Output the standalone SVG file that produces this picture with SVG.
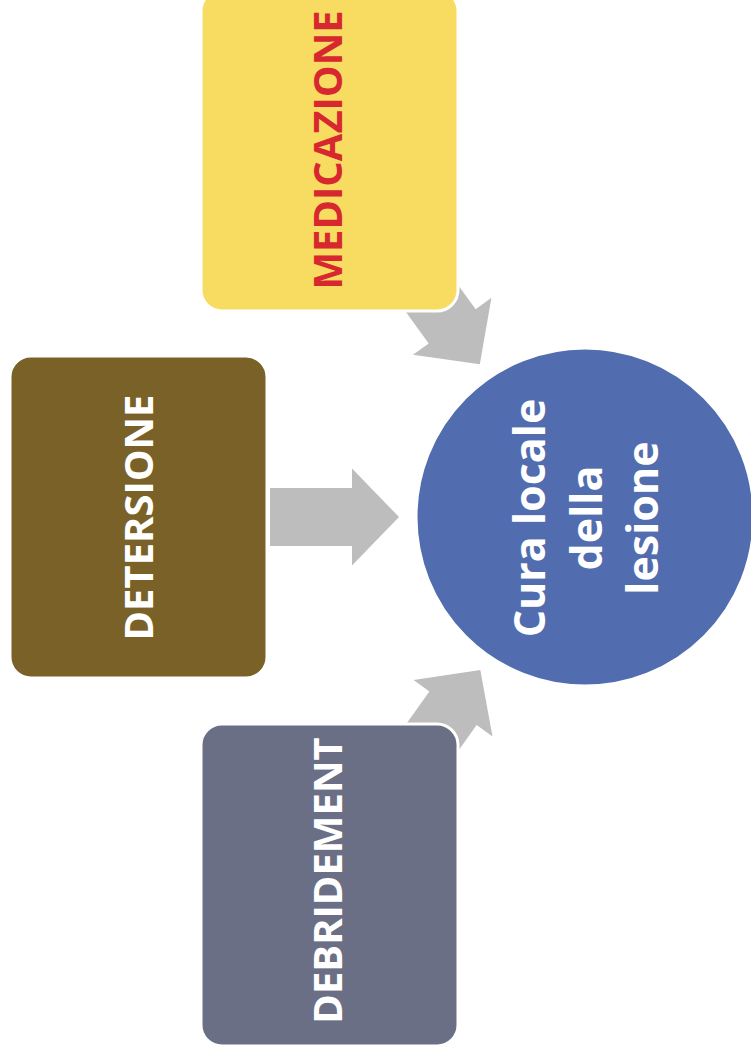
<svg xmlns="http://www.w3.org/2000/svg" width="751" height="1057" viewBox="0 0 751 1057">
<defs>
<style>
.box{stroke:#ffffff;stroke-width:3}
.lbl{font-family:"Open Sans","Liberation Sans",sans-serif;font-weight:700;font-size:40px;text-anchor:middle}
.arrow{fill:#BDBDBD}
</style>
<path id="arr" d="M0,-29 L82,-29 L82,-48.5 L129,0 L82,48.5 L82,29 L0,29 Z"/>
</defs>
<rect width="751" height="1057" fill="#ffffff"/>
<g id="connectors">
<use href="#arr" class="arrow" transform="translate(404,260) rotate(54)"/>
<use href="#arr" class="arrow" transform="translate(270,517)"/>
<use href="#arr" class="arrow" transform="translate(405.4,775) rotate(-54.5)"/>
</g>
<g id="node-medicazione">
<rect class="box" x="201" y="-10" width="257" height="321" rx="21" fill="#F8DC62"/>
<text class="lbl" fill="#D7282F" transform="translate(342,150) rotate(-90)">MEDICAZIONE</text>
</g>
<g id="node-detersione">
<rect class="box" x="10" y="356" width="257" height="322" rx="21" fill="#7A6128"/>
<text class="lbl" fill="#ffffff" transform="translate(153,517.5) rotate(-90)">DETERSIONE</text>
</g>
<g id="node-debridement">
<rect class="box" x="201" y="724" width="257" height="322" rx="21" fill="#6B6F86"/>
<text class="lbl" fill="#ffffff" transform="translate(342,880.5) rotate(-90)">DEBRIDEMENT</text>
</g>
<g id="node-cura">
<circle cx="585" cy="517" r="169" fill="#516DAF" stroke="#ffffff" stroke-width="3"/>
<text class="lbl" fill="#ffffff" style="font-size:43px" transform="translate(545,518) rotate(-90)">Cura locale</text>
<text class="lbl" fill="#ffffff" style="font-size:43px" transform="translate(602,518) rotate(-90)">della</text>
<text class="lbl" fill="#ffffff" style="font-size:43px" transform="translate(658,518) rotate(-90)">lesione</text>
</g>
</svg>
